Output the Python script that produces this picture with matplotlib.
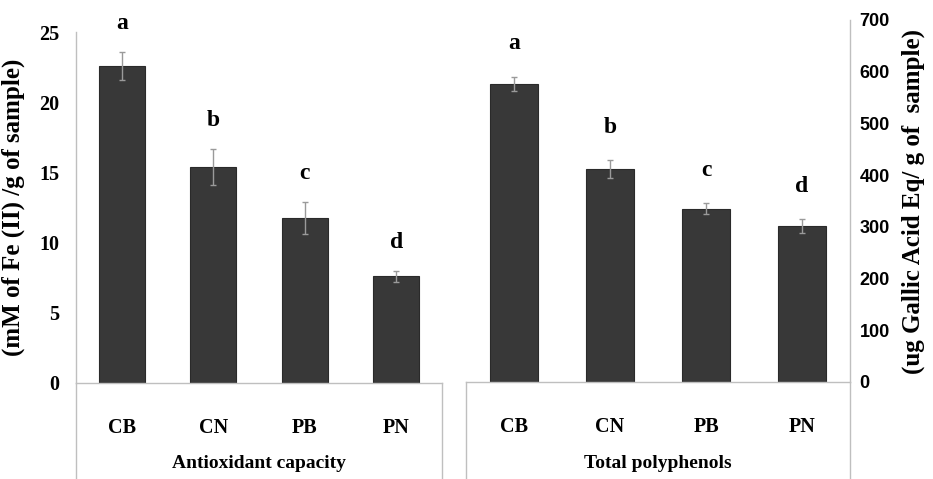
import matplotlib
matplotlib.use("Agg")
import matplotlib.pyplot as plt
from matplotlib.lines import Line2D

categories = ["CB", "CN", "PB", "PN"]
antiox = [22.6, 15.4, 11.75, 7.6]
antiox_err = [1.0, 1.3, 1.15, 0.4]
antiox_letters = ["a", "b", "c", "d"]
poly = [576, 412, 335, 302]
poly_err = [14, 17, 11, 13]
poly_letters = ["a", "b", "c", "d"]
group_labels = ["Antioxidant capacity", "Total polyphenols"]
left_ylabel = "(mM of Fe (II) /g of sample)"
right_ylabel = "(ug Gallic Acid Eq/ g of  sample)"
left_ticks = [0, 5, 10, 15, 20, 25]
right_ticks = [0, 100, 200, 300, 400, 500, 600, 700]

W, H = 933, 479
fig = plt.figure(figsize=(W / 100, H / 100), dpi=100)
serif = "Liberation Serif"
sans = ["Liberation Sans Narrow", "Liberation Sans"]
bar_color = "#383838"
grey = "#bfbfbf"


def fx(px):
    return px / W


def fy(py):
    return 1 - py / H


ax1 = fig.add_axes([fx(76), fy(383), fx(442 - 76), (383 - 32) / H])
ax2 = fig.add_axes([fx(466), fy(382), fx(850 - 466), (382 - 20) / H])

x = list(range(len(categories)))

for ax, vals, errs, letters, off in [
    (ax1, antiox, antiox_err, antiox_letters, 28),
    (ax2, poly, poly_err, poly_letters, 33),
]:
    ax.bar(x, vals, width=0.5, color=bar_color, edgecolor="#2a2a2a", linewidth=0.8, zorder=2)
    ax.errorbar(x, vals, yerr=errs, fmt="none", ecolor="#9a9a9a", elinewidth=1.0,
                capsize=2, capthick=1.0, zorder=3)
    for xi, v, e, lt in zip(x, vals, errs, letters):
        ax.annotate(lt, (xi, v + e), xytext=(0, off), textcoords="offset pixels",
                    ha="center", va="center", fontsize=17, fontweight="bold",
                    family=serif, annotation_clip=False)
    ax.set_xlim(-0.5, len(categories) - 0.5)
    ax.set_xticks(x)
    ax.set_xticklabels(categories, fontsize=14.5, fontweight="bold", family=serif)
    ax.tick_params(axis="x", length=0, pad=25)
    ax.spines["top"].set_visible(False)
    for s in ax.spines.values():
        s.set_color(grey)
        s.set_linewidth(1.0)

# left axis
ax1.set_ylim(0, 25)
ax1.set_yticks(left_ticks)
ax1.set_yticklabels([str(t) for t in left_ticks], fontsize=14.5, fontweight="bold", family=serif)
ax1.tick_params(axis="y", length=0, pad=12)
ax1.spines["right"].set_visible(False)
ax1.set_ylabel(left_ylabel, fontsize=18, fontweight="bold", family=serif, labelpad=10)

# right axis
ax2.set_ylim(0, 700)
ax2.yaxis.tick_right()
ax2.yaxis.set_label_position("right")
ax2.set_yticks(right_ticks)
ax2.set_yticklabels([str(t) for t in right_ticks], fontsize=13, fontweight="bold", family=sans)
ax2.tick_params(axis="y", length=0, pad=7)
ax2.spines["left"].set_visible(False)
ax2.set_ylabel(right_ylabel, fontsize=18, fontweight="bold", family=serif, labelpad=8)

# multi-level category axis separators and group labels
for xs, ybase in [((76, 442), 383), ((466, 850), 382)]:
    for xp in xs:
        fig.add_artist(Line2D([fx(xp), fx(xp)], [fy(ybase), 0], color=grey, lw=1.0))
for ax, lab in zip([ax1, ax2], group_labels):
    bb = ax.get_position()
    fig.text((bb.x0 + bb.x1) / 2, fy(463), lab, ha="center", va="center",
             fontsize=14, fontweight="bold", family=serif)

fig.savefig("out.png", dpi=100, facecolor="white")
